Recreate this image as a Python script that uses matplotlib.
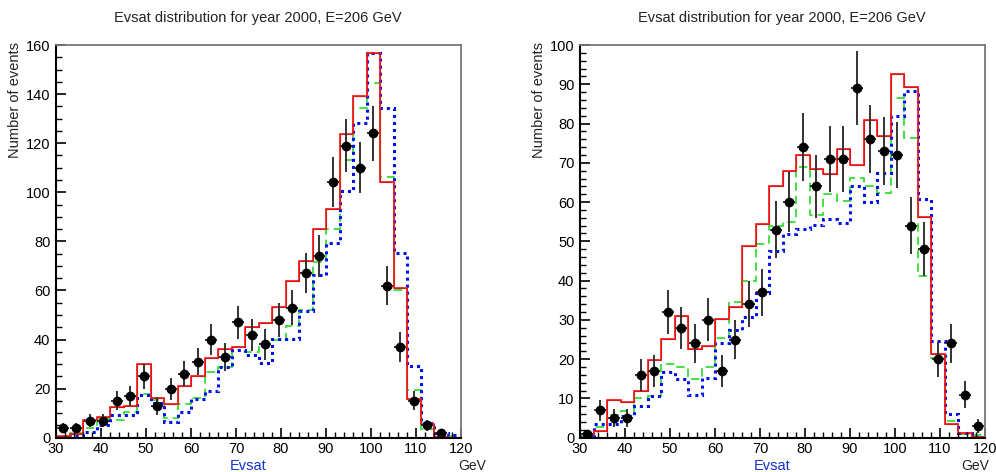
import numpy as np
import matplotlib
matplotlib.use("Agg")
import matplotlib.pyplot as plt
from matplotlib.ticker import MultipleLocator

# bins: 30 bins of 3 GeV from 30 to 120
edges = np.arange(30, 121, 3)
centers = edges[:-1] + 1.5

# left panel
data_l = [4, 4, 7, 7, 15, 17, 25, 13, 20, 26, 31, 40, 33, 47, 42, 38, 48, 53, 67, 74,
          104, 119, 110, 124, 62, 37, 15, 5, 2, 0]
red_l = [0.8, 1.5, 7.1, 8.6, 12.5, 12.9, 29.9, 16.3, 13.6, 21.2, 25, 32.6, 36, 37, 45, 46.9,
         53.4, 64, 72, 85.2, 93.2, 123.8, 139.4, 156.9, 104.3, 61.1, 15.8, 5.6, 0.3, 0]
black_l = list(red_l)
green_l = [0.4, 1.8, 4.1, 7.6, 7.1, 10.6, 17.8, 15.4, 8.0, 13.6, 16.3, 26.8, 28.8, 36.9, 35.1, 38,
           39.8, 45.6, 52, 71.7, 84.9, 113, 134.2, 144.4, 106.1, 60.2, 19.3, 3.5, 1.4, 0.5]
blue_l = [0.4, 0.8, 2.3, 5.2, 9.1, 9.1, 17.4, 14, 6.2, 10.6, 15.8, 19.2, 28.8, 35.7, 33.6, 30.3,
          40.2, 40.2, 51.7, 66.3, 79.2, 100.7, 128.1, 156.9, 134.5, 75.4, 29.3, 5.9, 1.8, 1.1]

# right panel
data_r = [1, 7, 5, 5, 16, 17, 32, 28, 24, 30, 17, 25, 34, 37, 53, 60, 74, 64, 71, 71,
          89, 76, 73, 72, 54, 48, 20, 24, 11, 3]
red_r = [1.0, 1.7, 9.6, 9.0, 11.8, 19.8, 25.2, 30.9, 22.5, 23.3, 30.2, 33.4, 48.9, 54.4, 64.1,
         68, 72, 68.5, 67.1, 73.5, 69.5, 80.9, 76.8, 92.6, 89.4, 56.1, 21.2, 3.5, 1.1, 0.3]
black_r = list(red_r)
green_r = [0.5, 2.6, 5.7, 6.9, 10.2, 10.6, 18.7, 17.9, 14.9, 18, 25.3, 34.5, 39.9, 49.3, 54,
           55, 69, 56.6, 62, 60.4, 66.2, 64, 62.2, 86.5, 76.3, 41.2, 20.2, 4.3, 0.9, 0.6]
blue_r = [0.6, 3.5, 3.5, 5.4, 8.1, 10.7, 16.7, 15, 10.9, 15.2, 24.1, 27.4, 30.8, 36.8, 47.6,
          51.8, 53.1, 54.2, 55.6, 54.6, 64, 60, 67.4, 81.8, 88.3, 60.8, 24.7, 6.0, 1.3, 0.3]

title = "Evsat distribution for year 2000, E=206 GeV"

plt.rcParams['font.family'] = ['Liberation Sans', 'DejaVu Sans']

fig = plt.figure(figsize=(9.96, 4.72), dpi=100)


def panel(rect, data, black, red, green, blue, ymax, ymaj, ymin):
    ax = fig.add_axes(rect)
    ax.stairs(black, edges, color='#333333', lw=0.8, baseline=0)
    ax.stairs(green, edges, color='#22dd22', lw=1.2, ls=(0, (5, 3)), baseline=0)
    ax.stairs(blue, edges, color='#0011ee', lw=2.2, ls=(0, (1, 1.3)), baseline=0)
    ax.stairs(red, edges, color='#ff1111', lw=1.2, baseline=0)
    d = np.array(data, dtype=float)
    m = d > 0
    ax.errorbar(centers[m], d[m], yerr=np.sqrt(d[m]), xerr=1.3, fmt='o', color='black',
                ecolor='#333333', ms=6, elinewidth=1.4, capsize=0, zorder=5)
    ax.set_xlim(30, 120)
    ax.set_ylim(0, ymax)
    ax.xaxis.set_major_locator(MultipleLocator(10))
    ax.xaxis.set_minor_locator(MultipleLocator(2))
    ax.yaxis.set_major_locator(MultipleLocator(ymaj))
    ax.yaxis.set_minor_locator(MultipleLocator(ymin))
    ax.tick_params(direction='in', which='major', length=7, width=1.2, labelsize=10.5, pad=4)
    ax.tick_params(axis='x', which='major', pad=3)
    ax.tick_params(direction='in', which='minor', length=4, width=1.0)
    for s in ['left', 'bottom']:
        ax.spines[s].set_linewidth(1.5)
    for s in ['top', 'right']:
        ax.spines[s].set_color('#777777')
        ax.spines[s].set_linewidth(1.3)
    return ax


axl = panel([56 / 996, 34.3 / 472, 405 / 996, 392.7 / 472],
            data_l, black_l, red_l, green_l, blue_l, 160, 20, 5)
axr = panel([580 / 996, 34.3 / 472, 405 / 996, 392.7 / 472],
            data_r, black_r, red_r, green_r, blue_r, 100, 10, 2)

for x0, xg in [(258, 472), (782, 975)]:
    fig.text(x0 / 996, 1 - 18 / 472, title, ha='center', va='center', fontsize=10.5,
             color='#222222')
    fig.text((x0 - 10) / 996, 1 - 466 / 472, 'Evsat', ha='center', va='center',
             fontsize=10.5, color='#1133cc')
    fig.text(xg / 996, 1 - 466 / 472, 'GeV', ha='center', va='center', fontsize=10,
             color='#222222')

fig.text(15 / 996, 1 - 42 / 472, 'Number of events', rotation=90, ha='center', va='top',
         fontsize=10.5, color='#222222')
fig.text(539 / 996, 1 - 42 / 472, 'Number of events', rotation=90, ha='center', va='top',
         fontsize=10.5, color='#222222')

fig.savefig('out.png', dpi=100)
